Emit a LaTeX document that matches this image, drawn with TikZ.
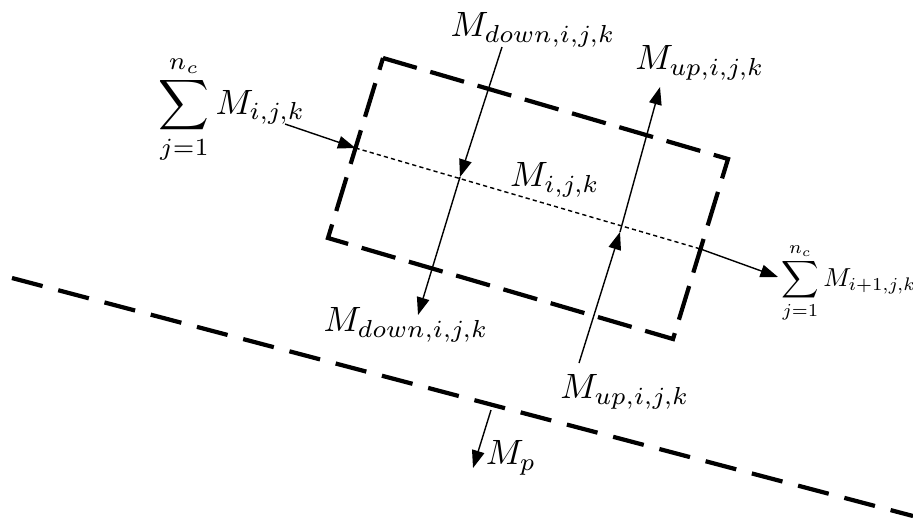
\documentclass[tikz,border=0pt]{standalone}
\usepackage{amsmath}
\usepackage{tikz}
\usetikzlibrary{arrows.meta, positioning, calc}

\begin{document}
\begin{tikzpicture}[
  x=0.01cm, y=-0.01cm,
  wall/.style={line width=1.2pt, dash pattern=on 10pt off 4pt},
  ground/.style={line width=1.2pt, dash pattern=on 9pt off 4.6pt},
  centre/.style={line width=0.4pt, dash pattern=on 1.2pt off 0.9pt},
  arrow/.style={-{Triangle[length=5pt,width=3.6pt]}, line width=0.4pt},
  lbl/.style={inner sep=0pt, font=\normalsize}
]
\useasboundingbox (0,0) rectangle (913,524);

% control volume corners
\coordinate (tl) at (383,58);
\coordinate (tr) at (728,159);
\coordinate (br) at (673,339);
\coordinate (bl) at (328,238);
\coordinate (inL)  at ($(tl)!0.5!(bl)$);
\coordinate (outR) at ($(tr)!0.5!(br)$);

% flow points
\coordinate (inS)   at (285,124);
\coordinate (outE)  at (778,277);
\coordinate (dnS)   at (502,47);
\coordinate (dnM)   at (460,177);
\coordinate (dnE)   at (418,315);
\coordinate (upS)   at (579,363);
\coordinate (upM)   at (620,232);
\coordinate (upE)   at (660,87);
\coordinate (gndA)  at (12,278);
\coordinate (gndB)  at (913,516);
\coordinate (pS)    at (491,410);
\coordinate (pE)    at (473,468);

\draw[wall] (tl) -- (tr) -- (br) -- (bl) -- cycle;
\draw[ground] (gndA) -- (gndB);
\draw[centre] (inL) -- (outR);

\draw[arrow] (inS)  -- (inL);
\draw[arrow] (outR) -- (outE);
\draw[arrow] (dnS)  -- (dnM);
\draw[arrow] (dnM)  -- (dnE);
\draw[arrow] (upS)  -- (upM);
\draw[arrow] (upM)  -- (upE);
\draw[arrow] (pS)   -- (pE);

\node[lbl] (sumin)   at (232,110) {$\displaystyle\sum_{j=1}^{n_c} M_{i,j,k}$};
\node[lbl, anchor=west, scale=0.74] (sumout) at (781,283)
  {$\displaystyle\sum_{j=1}^{n_c} M_{i+1,j,k}$};
\node[lbl] (mdnTop)  at (533,30)  {$M_{down,i,j,k}$};
\node[lbl] (mupTop)  at (700,63)  {$M_{up,i,j,k}$};
\node[lbl] (mcell)   at (555,180) {$M_{i,j,k}$};
\node[lbl] (mdnBot)  at (406,325) {$M_{down,i,j,k}$};
\node[lbl] (mupBot)  at (625,392) {$M_{up,i,j,k}$};
\node[lbl] (mp)      at (511,458) {$M_p$};
\end{tikzpicture}
\end{document}
